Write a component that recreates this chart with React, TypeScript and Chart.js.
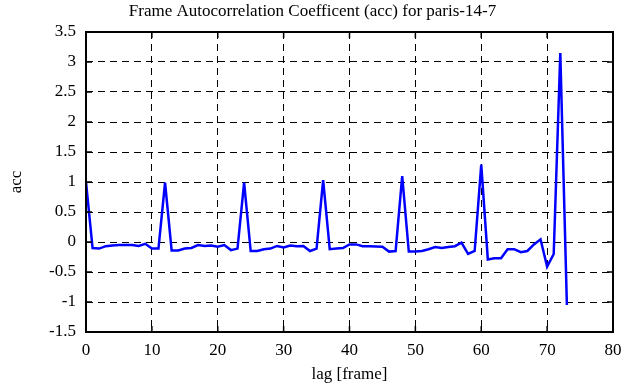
import React, { useEffect, useRef } from "react";
import { Chart, registerables } from "chart.js";

Chart.register(...registerables);

const titleText = "Frame Autocorrelation Coefficent (acc) for paris-14-7";
const xAxisLabel = "lag [frame]";
const yAxisLabel = "acc";

const lags = [
  0, 1, 2, 3, 4, 5, 6, 7, 8, 9, 10, 11, 12, 13, 14, 15, 16, 17, 18, 19, 20, 21, 22, 23, 24,
  25, 26, 27, 28, 29, 30, 31, 32, 33, 34, 35, 36, 37, 38, 39, 40, 41, 42, 43, 44, 45, 46, 47,
  48, 49, 50, 51, 52, 53, 54, 55, 56, 57, 58, 59, 60, 61, 62, 63, 64, 65, 66, 67, 68, 69, 70,
  71, 72, 73,
];

const accValues = [
  1.0, -0.1, -0.11, -0.07, -0.06, -0.05, -0.05, -0.05, -0.065, -0.03, -0.11, -0.11, 0.99,
  -0.14, -0.14, -0.11, -0.1, -0.05, -0.065, -0.06, -0.08, -0.05, -0.135, -0.11, 0.99, -0.15,
  -0.15, -0.12, -0.11, -0.066, -0.09, -0.06, -0.07, -0.066, -0.15, -0.11, 1.03, -0.12, -0.11,
  -0.1, -0.04, -0.04, -0.07, -0.07, -0.075, -0.08, -0.16, -0.15, 1.1, -0.16, -0.16, -0.15,
  -0.12, -0.083, -0.1, -0.083, -0.07, -0.01, -0.2, -0.15, 1.29, -0.29, -0.27, -0.27, -0.12,
  -0.12, -0.17, -0.15, -0.04, 0.045, -0.41, -0.2, 3.15, -1.05,
];

const xTickMin = 0;
const xTickMax = 80;
const xTickStep = 10;
const yTickMin = -1.5;
const yTickMax = 3.5;
const yTickStep = 0.5;

const FONT = "'Liberation Serif', 'DejaVu Serif', serif";

const frameTicksPlugin = {
  id: "frameTicks",
  afterDraw(chart: any) {
    const { ctx, chartArea, scales } = chart;
    const { left, right, top, bottom } = chartArea;
    const x = scales.x;
    const y = scales.y;
    const len = 6;
    ctx.save();
    ctx.strokeStyle = "#000";
    ctx.lineWidth = 1.5;
    ctx.setLineDash([]);
    ctx.beginPath();
    x.ticks.forEach((t: any) => {
      const px = x.getPixelForValue(t.value);
      ctx.moveTo(px, bottom);
      ctx.lineTo(px, bottom - len);
      ctx.moveTo(px, top);
      ctx.lineTo(px, top + len);
    });
    y.ticks.forEach((t: any) => {
      const py = y.getPixelForValue(t.value);
      ctx.moveTo(left, py);
      ctx.lineTo(left + len, py);
      ctx.moveTo(right, py);
      ctx.lineTo(right - len, py);
    });
    ctx.stroke();
    ctx.lineWidth = 2;
    ctx.strokeRect(left, top, right - left, bottom - top);
    ctx.restore();
  },
};

export default function App() {
  const canvasRef = useRef<HTMLCanvasElement | null>(null);

  useEffect(() => {
    if (!canvasRef.current) return;
    const points = lags.map((l, i) => ({ x: l, y: accValues[i] }));
    const chart = new Chart(canvasRef.current, {
      type: "line",
      data: {
        datasets: [
          {
            data: points,
            borderColor: "#0000ff",
            borderWidth: 2.5,
            pointRadius: 0,
            tension: 0,
            fill: false,
          },
        ],
      },
      options: {
        responsive: false,
        animation: false,
        layout: { padding: 0 },
        plugins: {
          legend: { display: false },
          tooltip: { enabled: false },
          title: {
            display: true,
            text: titleText,
            color: "#000",
            font: { family: FONT, size: 17, weight: "normal", lineHeight: 1.2 },
            padding: { top: 1, bottom: 10.6 },
          },
        },
        scales: {
          x: {
            type: "linear",
            min: xTickMin,
            max: xTickMax,
            afterFit(scale: any) {
              scale.height = 55;
              scale.paddingLeft = 0;
              scale.paddingRight = 12;
            },
            ticks: {
              stepSize: xTickStep,
              color: "#000",
              padding: 8,
              maxRotation: 0,
              font: { family: FONT, size: 17 },
              callback: (v: any) => String(v),
            },
            grid: { color: "#000", lineWidth: 1, drawTicks: false },
            border: { display: false, dash: [7, 5] },
            title: {
              display: true,
              text: xAxisLabel,
              color: "#000",
              font: { family: FONT, size: 17, lineHeight: 1.2 },
              padding: { top: 0, bottom: 2 },
            },
          },
          y: {
            type: "linear",
            min: yTickMin,
            max: yTickMax,
            afterFit(scale: any) {
              scale.width = 86;
              scale.paddingTop = 0;
              scale.paddingBottom = 0;
            },
            ticks: {
              stepSize: yTickStep,
              color: "#000",
              padding: 10,
              font: { family: FONT, size: 17 },
              callback: (v: any) => String(v),
            },
            grid: { color: "#000", lineWidth: 1, drawTicks: false },
            border: { display: false, dash: [7, 5] },
            title: {
              display: true,
              text: yAxisLabel,
              color: "#000",
              font: { family: FONT, size: 17, lineHeight: 1.2 },
              padding: { top: 6, bottom: 0 },
            },
          },
        },
      },
      plugins: [frameTicksPlugin],
    });
    return () => chart.destroy();
  }, []);

  return (
    <div style={{ position: "absolute", left: 0, top: 0, width: 625, height: 387, background: "#fff" }}>
      <canvas ref={canvasRef} width={625} height={387} style={{ display: "block" }} />
    </div>
  );
}
